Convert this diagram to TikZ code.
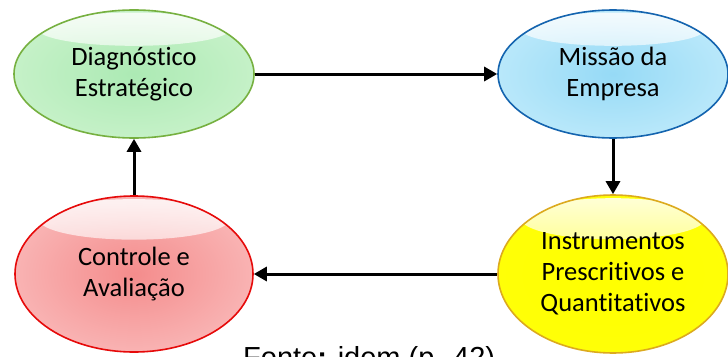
\documentclass[tikz,border=0pt]{standalone}
\usepackage{fontspec}
\setmainfont[Ligatures=NoCommon]{Carlito}
\newfontfamily\arialf{Liberation Sans}
\usetikzlibrary{shapes.geometric,arrows.meta,fadings}

\definecolor{gIn}{RGB}{172,234,180}
\definecolor{gMid}{RGB}{208,244,208}
\definecolor{gOut}{RGB}{140,190,120}
\definecolor{gLine}{RGB}{118,176,64}
\definecolor{bIn}{RGB}{150,218,246}
\definecolor{bMid}{RGB}{200,238,252}
\definecolor{bOut}{RGB}{110,160,195}
\definecolor{bLine}{RGB}{20,100,175}
\definecolor{rIn}{RGB}{244,140,140}
\definecolor{rMid}{RGB}{251,196,196}
\definecolor{rOut}{RGB}{205,110,110}
\definecolor{rLine}{RGB}{230,10,10}
\definecolor{yIn}{RGB}{255,255,0}
\definecolor{yMid}{RGB}{255,255,10}
\definecolor{yOut}{RGB}{205,175,20}
\definecolor{yLine}{RGB}{220,170,30}

\pgfdeclareradialshading{gshade}{\pgfpoint{0bp}{0bp}}{color(0bp)=(gIn); color(36bp)=(gMid); color(45bp)=(gMid); color(50bp)=(gOut)}
\pgfdeclareradialshading{bshade}{\pgfpoint{0bp}{0bp}}{color(0bp)=(bIn); color(36bp)=(bMid); color(45bp)=(bMid); color(50bp)=(bOut)}
\pgfdeclareradialshading{rshade}{\pgfpoint{0bp}{0bp}}{color(0bp)=(rIn); color(36bp)=(rMid); color(45bp)=(rMid); color(50bp)=(rOut)}
\pgfdeclareradialshading{yshade}{\pgfpoint{0bp}{0bp}}{color(0bp)=(yIn); color(36bp)=(yMid); color(45bp)=(yMid); color(50bp)=(yOut)}

\tikzset{
  bubble/.style n args={4}{ellipse, inner sep=0pt, minimum width=#1, minimum height=#2,
    shading=#3, draw=#4, line width=1.6pt, align=center, text=black,
    font=\fontsize{26.5}{31}\selectfont,
    path picture={
      \fill[white, opacity=0.85, path fading=south]
        ([yshift=-0.15*#2]path picture bounding box.north) ellipse [x radius=0.40*#1, y radius=0.13*#2];
    }},
  link/.style={line width=3pt, -{Triangle[length=13pt,width=14pt]}},
  fonte/.style={font=\arialf\fontsize{29}{34}\selectfont, inner sep=0pt}
}

\begin{document}
\begin{tikzpicture}[x=1pt,y=1pt]
\useasboundingbox[fill=white] (0,0) rectangle (728,-356);

\node[bubble={240pt}{128pt}{gshade}{gLine}] (diag) at (134,-74) {Diagnóstico\\Estratégico};
\node[bubble={230pt}{128pt}{bshade}{bLine}] (missao) at (613,-74) {Missão da\\Empresa};
\node[bubble={238pt}{156pt}{rshade}{rLine}] (ctrl) at (134,-274) {Controle e\\Avaliação};
\node[bubble={230pt}{158pt}{yshade}{yLine}] (instr) at (613,-274) {Instrumentos\\Prescritivos e\\Quantitativos};

\draw[link] (diag) -- (missao);
\draw[link] (missao) -- (instr);
\draw[link] (instr) -- (ctrl);
\draw[link] (ctrl) -- (diag);

\node[fonte, anchor=base west] (src) at (243,-367) {Fonte\textbf{:} idem (p. 42)};
\end{tikzpicture}
\end{document}
